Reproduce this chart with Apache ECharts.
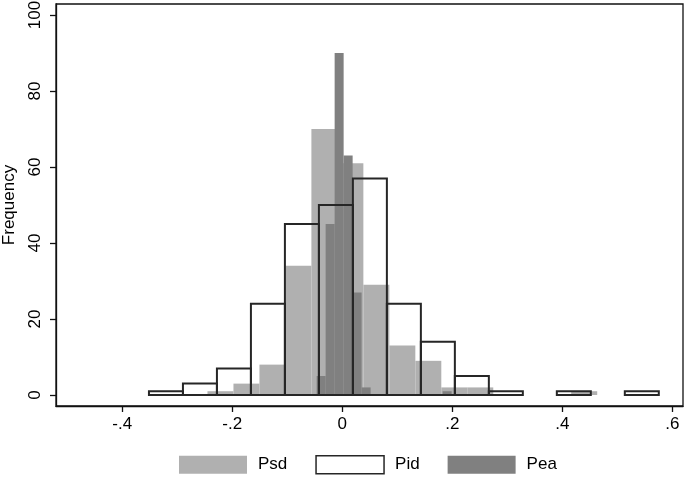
<!DOCTYPE html>
<html>
<head>
<meta charset="utf-8">
<script src="https://cdn.jsdelivr.net/npm/echarts@6/dist/echarts.min.js"></script>
<style>
html,body{margin:0;padding:0;background:#fff;}
#c{width:685px;height:481px;}
</style>
</head>
<body>
<div id="c"></div>
<script>
// Histogram bins (start, width) and counts
var psdStart = -0.2451, psdWidth = 0.04724;
var psdCounts = [1, 3, 8, 34, 70, 61, 29, 13, 9, 2, 2, 0, 0, 0, 1];
var pidStart = -0.3515, pidWidth = 0.0618;
var pidCounts = [1, 3, 7, 24, 45, 50, 57, 24, 14, 5, 1, 0, 1, 0, 1];
var peaStart = -0.0466, peaWidth = 0.01636;
var peaCounts = [5, 45, 90, 63, 27, 2, 0, 0, 0, 0, 0, 0, 0, 0, 1];

var xTickValues = [-0.4, -0.2, 0, 0.2, 0.4, 0.6];
var xTickLabels = ['-.4', '-.2', '0', '.2', '.4', '.6'];
var yTickValues = [0, 20, 40, 60, 80, 100];
var yTickLabels = ['0', '20', '40', '60', '80', '100'];
var yTitle = 'Frequency';

function bins(start, width, counts) {
  var out = [];
  for (var i = 0; i < counts.length; i++) {
    if (counts[i] > 0) out.push([start + width * i, start + width * (i + 1), counts[i]]);
  }
  return out;
}

function render(style) {
  return function (params, api) {
    var p0 = api.coord([api.value(0), api.value(2)]);
    var p1 = api.coord([api.value(1), 0]);
    return {
      type: 'rect',
      shape: { x: p0[0], y: p0[1], width: p1[0] - p0[0], height: p1[1] - p0[1] },
      style: style
    };
  };
}

var font = 'Liberation Sans, Arial, Helvetica, sans-serif';
var chart = echarts.init(document.getElementById('c'), null, { renderer: 'canvas' });
chart.setOption({
  animation: false,
  backgroundColor: '#fff',
  grid: { left: 56, top: 4, right: 2, bottom: 75, containLabel: false, outerBoundsMode: 'none',
          show: true, borderColor: '#111', borderWidth: 1.3, backgroundColor: '#fff' },
  graphic: [{
    type: 'text', x: 9, y: 205, rotation: Math.PI / 2,
    style: { text: yTitle, fill: '#000', font: '17px ' + font, align: 'center', verticalAlign: 'middle' }
  }],
  xAxis: {
    type: 'value', min: -0.5205, max: 0.6195,
    axisLine: { show: true, onZero: false, lineStyle: { color: '#111', width: 1.3 } },
    splitLine: { show: false },
    axisTick: { show: true, length: 6, lineStyle: { color: '#111', width: 1.3 }, customValues: xTickValues },
    axisLabel: {
      customValues: xTickValues, margin: 10, color: '#000', fontSize: 17, fontFamily: font,
      formatter: function (v) { var i = xTickValues.findIndex(function (t) { return Math.abs(t - v) < 1e-9; }); return i >= 0 ? xTickLabels[i] : ''; }
    }
  },
  yAxis: {
    type: 'value', min: -2.89, max: 102.89,
    axisLine: { show: true, onZero: false, lineStyle: { color: '#111', width: 1.3 } },
    splitLine: { show: false },
    axisTick: { show: true, length: 6, lineStyle: { color: '#111', width: 1.3 }, customValues: yTickValues },
    axisLabel: {
      customValues: yTickValues, rotate: 90, margin: 12, color: '#000', fontSize: 17, fontFamily: font,
      formatter: function (v) { var i = yTickValues.indexOf(Math.round(v)); return i >= 0 ? yTickLabels[i] : ''; }
    }
  },
  legend: {
    left: 179, top: 455, padding: 0, itemWidth: 68, itemHeight: 18, itemGap: 28,
    textStyle: { color: '#000', fontSize: 17, fontFamily: font, padding: [0, 0, 0, 6] },
    data: [
      { name: 'Psd', icon: 'rect', itemStyle: { color: '#b0b0b0', borderWidth: 0 } },
      { name: 'Pid', icon: 'rect', itemStyle: { color: '#fff', borderColor: '#262626', borderWidth: 1.5 } },
      { name: 'Pea', icon: 'rect', itemStyle: { color: '#808080', borderWidth: 0 } }
    ]
  },
  series: [
    { name: 'Psd', type: 'custom', data: bins(psdStart, psdWidth, psdCounts), encode: { x: [0, 1], y: 2 },
      itemStyle: { color: '#b0b0b0' }, renderItem: render({ fill: '#b0b0b0' }) },
    { name: 'Pea', type: 'custom', data: bins(peaStart, peaWidth, peaCounts), encode: { x: [0, 1], y: 2 },
      itemStyle: { color: '#808080' }, renderItem: render({ fill: '#808080' }) },
    { name: 'Pid', type: 'custom', data: bins(pidStart, pidWidth, pidCounts), encode: { x: [0, 1], y: 2 },
      itemStyle: { color: '#fff' }, renderItem: render({ fill: 'none', stroke: '#262626', lineWidth: 2 }) }
  ]
});
</script>
</body>
</html>
